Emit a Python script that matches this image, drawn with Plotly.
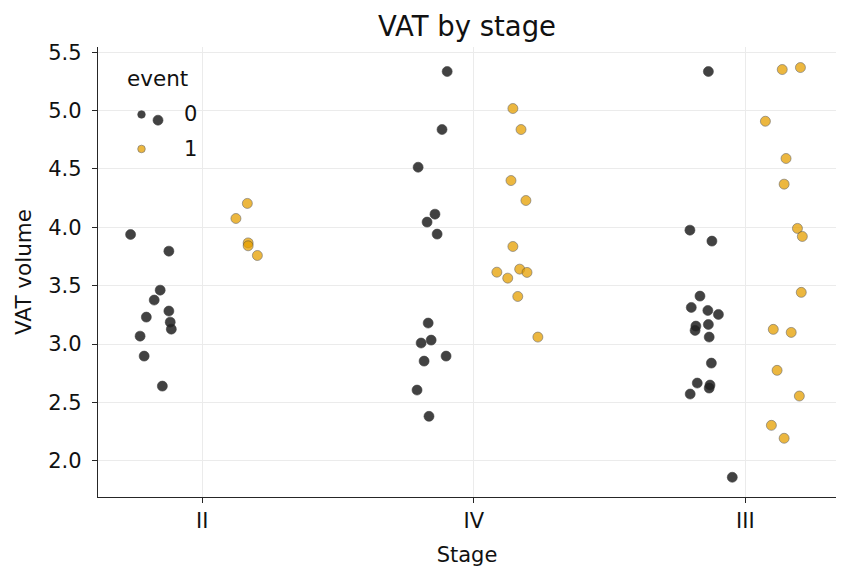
import plotly.graph_objects as go

# ---- data ----
stages = ["II", "IV", "III"]
events = ["0", "1"]

# VAT values per stage / event
vat_II_0 = [4.918, 3.939, 3.796, 3.462, 3.377, 3.283, 3.231, 3.188, 3.128, 3.068, 2.897, 2.640]
vat_II_1 = [4.205, 4.076, 3.867, 3.842, 3.759]
vat_IV_0 = [5.335, 4.838, 4.515, 4.113, 4.045, 3.942, 3.180, 3.034, 3.009, 2.897, 2.854, 2.606, 2.381]
vat_IV_1 = [5.018, 4.838, 4.401, 4.230, 3.836, 3.616, 3.642, 3.614, 3.565, 3.408, 3.060]
vat_III_0 = [5.335, 3.976, 3.882, 3.411, 3.314, 3.288, 3.254, 3.168, 3.154, 3.117, 3.060, 2.837,
             2.666, 2.649, 2.623, 2.572, 1.859]
vat_III_1 = [5.352, 5.369, 4.909, 4.590, 4.370, 3.991, 3.922, 3.443, 3.126, 3.100, 2.775, 2.555,
             2.304, 2.193]

# horizontal strip offsets (dodge + jitter, category units)
off_II_0 = [-0.163, -0.264, -0.123, -0.155, -0.177, -0.123, -0.206, -0.118, -0.114, -0.229, -0.214, -0.147]
off_II_1 = [0.166, 0.124, 0.169, 0.169, 0.203]
off_IV_0 = [-0.098, -0.117, -0.205, -0.143, -0.172, -0.135, -0.168, -0.157, -0.194, -0.102, -0.183,
            -0.209, -0.165]
off_IV_1 = [0.144, 0.174, 0.137, 0.192, 0.144, 0.085, 0.169, 0.196, 0.125, 0.162, 0.236]
off_III_0 = [-0.136, -0.204, -0.123, -0.167, -0.199, -0.138, -0.099, -0.136, -0.182, -0.185, -0.133,
             -0.125, -0.177, -0.130, -0.133, -0.203, -0.048]
off_III_1 = [0.136, 0.203, 0.074, 0.150, 0.143, 0.192, 0.210, 0.206, 0.103, 0.169, 0.117, 0.199,
             0.096, 0.143]

values = {
    ("II", "0"): vat_II_0, ("II", "1"): vat_II_1,
    ("IV", "0"): vat_IV_0, ("IV", "1"): vat_IV_1,
    ("III", "0"): vat_III_0, ("III", "1"): vat_III_1,
}
offsets = {
    ("II", "0"): off_II_0, ("II", "1"): off_II_1,
    ("IV", "0"): off_IV_0, ("IV", "1"): off_IV_1,
    ("III", "0"): off_III_0, ("III", "1"): off_III_1,
}

colors = {"0": "#222222", "1": "#E69F00"}
opac = {"0": 0.85, "1": 0.75}
edge = {"0": "#222222", "1": "#3a3a3a"}

FONT = "DejaVu Sans"
TXT = "#111111"
fig = go.Figure()

for ev in events:
    xs, ys = [], []
    for i, st in enumerate(stages):
        for v, o in zip(values[(st, ev)], offsets[(st, ev)]):
            xs.append(i + o)
            ys.append(v)
    fig.add_trace(go.Scatter(
        x=xs, y=ys, mode="markers", name=ev, showlegend=False,
        marker=dict(size=10, color=colors[ev], opacity=opac[ev],
                    line=dict(width=0.6, color=edge[ev])),
    ))

# manual legend (matplotlib style)
PL, PR, PT, PB = 98, 836, 46.5, 496.7
PW, PH = PR - PL, PB - PT


def px2paper_x(px):
    return (px - PL) / PW


def px2paper_y(py):
    return (PB - py) / PH


shapes = []
annotations = []
for k, ev in enumerate(events):
    ypix = 114 + k * 34.5
    ypaper = px2paper_y(ypix)
    shapes.append(dict(
        type="circle", xref="paper", yref="paper", xsizemode="pixel", ysizemode="pixel",
        xanchor=px2paper_x(141.5), yanchor=ypaper, x0=-3.8, x1=3.8, y0=-3.8, y1=3.8,
        fillcolor=colors[ev], opacity=opac[ev],
        line=dict(width=0.6, color=edge[ev]),
    ))
    annotations.append(dict(
        text=ev, xref="paper", yref="paper", x=px2paper_x(190), y=ypaper,
        xanchor="center", yanchor="middle", showarrow=False,
        font=dict(family=FONT, size=21, color=TXT),
    ))
annotations.append(dict(
    text="event", xref="paper", yref="paper", x=px2paper_x(157), y=px2paper_y(78),
    xanchor="center", yanchor="middle", showarrow=False,
    font=dict(family=FONT, size=21.5, color=TXT),
))

fig.update_layout(
    width=850, height=581,
    margin=dict(l=PL, r=850 - PR, t=PT, b=581 - PB),
    paper_bgcolor="white", plot_bgcolor="white",
    font=dict(family=FONT, size=21, color=TXT),
    title=dict(text="VAT by stage", x=(PL + PR) / 2 / 850, xanchor="center",
               y=1 - 26 / 581, yanchor="middle",
               font=dict(family=FONT, size=27.5, color=TXT)),
    shapes=shapes, annotations=annotations,
    showlegend=False,
)
fig.update_xaxes(
    range=[-0.384, 2.334], tickmode="array", tickvals=[0, 1, 2], ticktext=stages,
    showgrid=True, gridcolor="#ebebeb", gridwidth=1,
    showline=True, linecolor="#262626", linewidth=1.3,
    ticks="outside", ticklen=5, tickwidth=1.2, tickcolor="#262626",
    tickfont=dict(family=FONT, size=21, color=TXT),
    title=dict(text="Stage", font=dict(family=FONT, size=21, color=TXT), standoff=14),
    zeroline=False,
)
fig.update_yaxes(
    range=[1.69, 5.545], tickmode="array", tickvals=[2.0, 2.5, 3.0, 3.5, 4.0, 4.5, 5.0, 5.5],
    ticktext=["2.0", "2.5", "3.0", "3.5", "4.0", "4.5", "5.0", "5.5"],
    showgrid=True, gridcolor="#ebebeb", gridwidth=1,
    showline=True, linecolor="#262626", linewidth=1.3,
    ticks="outside", ticklen=5, tickwidth=1.2, tickcolor="#262626",
    ticklabelstandoff=6,
    tickfont=dict(family=FONT, size=21, color=TXT),
    title=dict(text="VAT volume", font=dict(family=FONT, size=21.5, color=TXT), standoff=10),
    zeroline=False,
)

fig.write_html("out.html")
